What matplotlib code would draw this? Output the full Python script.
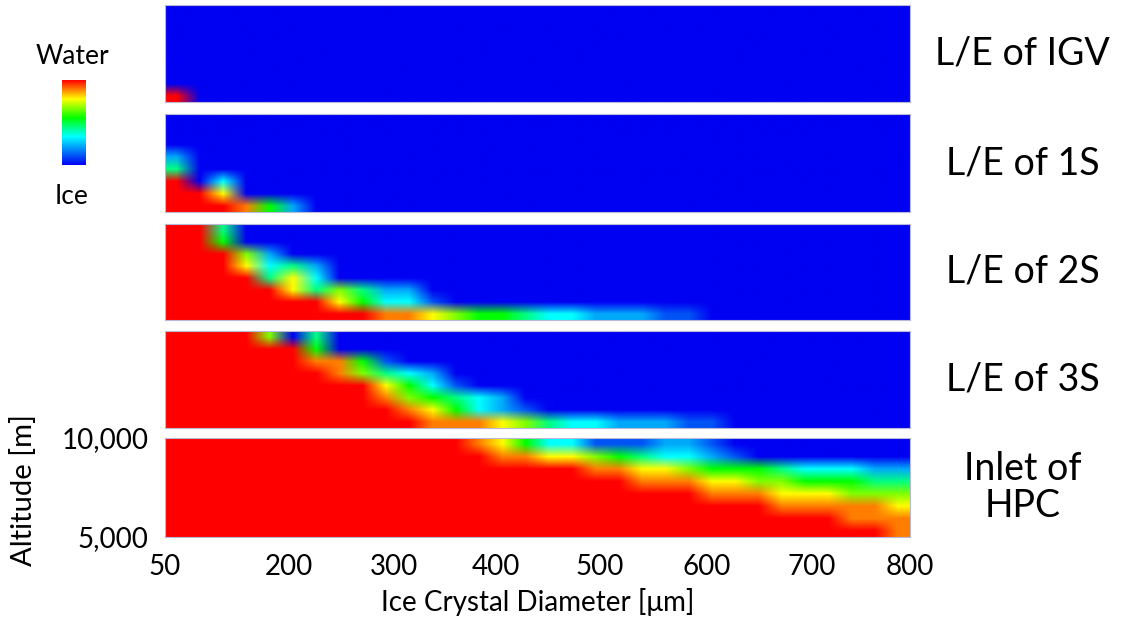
import numpy as np
import matplotlib
matplotlib.use('Agg')
import matplotlib.pyplot as plt
from matplotlib.colors import LinearSegmentedColormap

plt.rcParams['font.family'] = ['Lato', 'DejaVu Sans']

# panel titles (right side), top to bottom
panel_names = ['L/E of IGV', 'L/E of 1S', 'L/E of 2S', 'L/E of 3S', 'Inlet of\nHPC']

# x axis: ice crystal diameter labels and where they sit along the panel width
diam_ticks = [50, 200, 300, 400, 500, 600, 700, 800]
diam_tick_pos = [0.0, 0.166, 0.308, 0.444, 0.584, 0.727, 0.868, 1.0]
alt_ticks = [5000, 10000]
alt_labels = ['5,000', '10,000']

# water fraction, 0 = ice ... 9 = water
# 8 rows (10,000 m at top -> 5,000 m at bottom) x 32 columns (50 -> 800 um)
igv = [
    '00000000000000000000000000000000',
    '00000000000000000000000000000000',
    '00000000000000000000000000000000',
    '00000000000000000000000000000000',
    '00000000000000000000000000000000',
    '00000000000000000000000000000000',
    '00000000000000000000000000000000',
    '90000000000000000000000000000000',
]
s1 = [
    '00000000000000000000000000000000',
    '00000000000000000000000000000000',
    '00000000000000000000000000000000',
    '20000000000000000000000000000000',
    '40000000000000000000000000000000',
    '90300000000000000000000000000000',
    '99700000000000000000000000000000',
    '99985200000000000000000000000000',
]
s2 = [
    '99400000000000000000000000000000',
    '99500000000000000000000000000000',
    '99962000000000000000000000000000',
    '99973420000000000000000000000000',
    '99994730000000000000000000000000',
    '99999746422000000000000000000000',
    '99999997533100000000000000000000',
    '99999999988765543322211000000000',
]
s3 = [
    '99996040000000000000000000000000',
    '99999950000000000000000000000000',
    '99999988510000000000000000000000',
    '99999998643200000000000000000000',
    '99999999975310000000000000000000',
    '99999999986543200000000000000000',
    '99999999998753210000000000000000',
    '99999999999888764332221100000000',
]
hpc = [
    '99999999999998753311122100000000',
    '99999999999999887765433210000000',
    '99999999999999999988776555433322',
    '99999999999999999999888776655544',
    '99999999999999999999999888777666',
    '99999999999999999999999999888887',
    '99999999999999999999999999999888',
    '99999999999999999999999999999998',
]
panels = [igv, s1, s2, s3, hpc]

cmap = LinearSegmentedColormap.from_list('ice_water', [
    (0.0, '#0000f2'), (0.333, '#00ffff'), (0.556, '#00ff00'),
    (0.778, '#ffff00'), (0.889, '#ff8000'), (1.0, '#ff0000')])

fig = plt.figure(figsize=(11.21, 6.38), dpi=100)

# panel rectangles in pixels (top, bottom) of the 638 px tall picture
rows_px = [(5, 102), (114, 212), (224, 320), (331, 428), (438, 537)]
left, width = 165 / 1121, 745 / 1121

for i, (grid, name) in enumerate(zip(panels, panel_names)):
    top, bot = rows_px[i]
    ax = fig.add_axes([left, 1 - bot / 638, width, (bot - top) / 638])
    z = np.array([[int(c) for c in r] for r in grid]) / 9.0
    im = ax.imshow(z, cmap=cmap, vmin=0, vmax=1, aspect='auto',
                   extent=(0, 1, 5000, 10000), origin='upper',
                   interpolation='bilinear', interpolation_stage='rgba')
    for sp in ax.spines.values():
        sp.set_color('#b8b8d8')
        sp.set_linewidth(0.8)
    if i == len(panels) - 1:
        ax.set_xticks(diam_tick_pos)
        ax.set_xticklabels([str(t) for t in diam_ticks])
        ax.set_yticks(alt_ticks)
        ax.set_yticklabels(alt_labels)
        ax.tick_params(length=0, labelsize=20, pad=12)
        ax.set_xlabel('Ice Crystal Diameter [\u03bcm]', fontsize=20, labelpad=6)
    else:
        ax.set_xticks([])
        ax.set_yticks([])
    ax.set_xlim(0, 1)
    ax.set_ylim(5000, 10000)
    ax.text(1.151, 0.5, name, transform=ax.transAxes, ha='center', va='center',
            fontsize=27, linespacing=1.05)

fig.text(24 / 1121, 1 - 490 / 638, 'Altitude [m]', rotation=90,
         ha='center', va='center', fontsize=21)

# Water / Ice colour key
cax = fig.add_axes([62 / 1121, 1 - 165 / 638, 24 / 1121, 85 / 638])
cb = fig.colorbar(im, cax=cax)
cb.set_ticks([])
cb.outline.set_visible(False)
fig.text(72 / 1121, 1 - 57 / 638, 'Water', ha='center', va='center', fontsize=19)
fig.text(72 / 1121, 1 - 196 / 638, 'Ice', ha='center', va='center', fontsize=19)

fig.savefig('out.png', dpi=100)
